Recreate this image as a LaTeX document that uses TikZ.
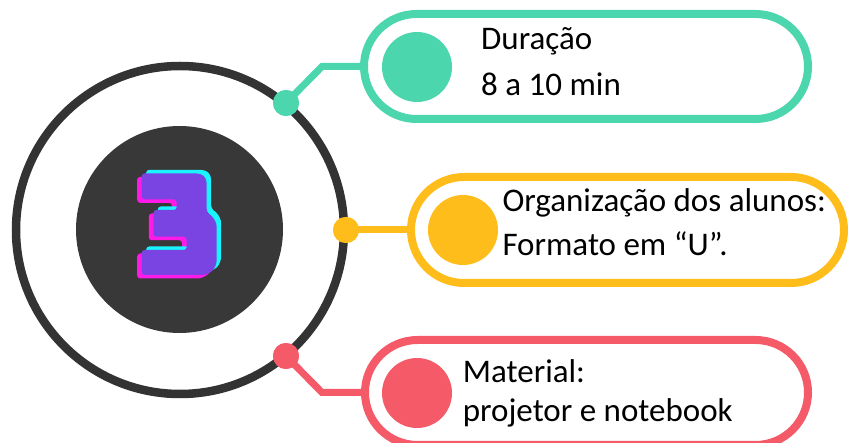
\documentclass[tikz,border=0pt]{standalone}
\usepackage{fontspec}
\setmainfont{Carlito}
\usetikzlibrary{shapes.misc}
\definecolor{cg}{HTML}{4BD6AD}
\definecolor{cy}{HTML}{FFBD1B}
\definecolor{cr}{HTML}{F55A69}
\definecolor{ring}{HTML}{333333}
\definecolor{core}{HTML}{383838}
\definecolor{purplec}{HTML}{7A44E3}
\definecolor{pinkc}{HTML}{FF1AE8}
\definecolor{cyanc}{HTML}{19F4FF}
\tikzset{
  pill/.style={rounded rectangle, line width=8pt, inner sep=0pt, outer sep=0pt, fill=white},
  dot/.style={circle, inner sep=0pt, outer sep=0pt, minimum size=26pt},
  bigdot/.style={circle, inner sep=0pt, outer sep=0pt, minimum size=70pt},
  link/.style={line width=7pt},
  txt/.style={anchor=base west, inner sep=0pt, font=\fontsize{33}{40}\selectfont, text=black},
}
\begin{document}
\begin{tikzpicture}[x=1pt,y=-1pt]
\useasboundingbox (0,0) rectangle (849,443);
\clip (0,0) rectangle (849,443);
% central circles
\node[circle, draw=ring, line width=8.5pt, minimum size=328pt, inner sep=0pt] (ringc) at (180,230) {};
\node[circle, fill=core, minimum size=207pt, inner sep=0pt] (corec) at (179.5,229.5) {};
% the stylised 3
\foreach \dx/\dy/\c in {-4.5/3.5/pinkc, 4.5/-3.5/cyanc, 0/0/purplec} {
  \fill[\c, shift={(\dx,\dy)}, rounded corners=3pt]
    (141.7,173.3) -- (198,173.3) -- (204,175.5) -- (206.7,181) -- (206.7,212)
    -- (213,217) -- (216.7,224) -- (216.7,263) -- (213,271) -- (205,275)
    -- (141.7,275) -- (141.7,250) -- (186.7,250) -- (186.7,236.7)
    -- (153.3,236.7) -- (153.3,210) -- (176.7,210) -- (176.7,199.3)
    -- (141.7,199.3) -- cycle;
}
% pills
\node[pill, draw=cg, minimum width=444pt, minimum height=105pt] (gpill) at (586,66.5) {};
\node[pill, draw=cy, minimum width=433pt, minimum height=106pt] (ypill) at (627.5,230) {};
\node[pill, draw=cr, minimum width=443pt, minimum height=105pt] (rpill) at (586.5,392.5) {};
% connectors
\coordinate (gbend) at (322,66.5);
\coordinate (rbend) at (322,392.5);
\node[dot, fill=cg] (gdot) at (286,103) {};
\node[dot, fill=cy] (ydot) at (346,230) {};
\node[dot, fill=cr] (rdot) at (286,356) {};
\draw[link, cg] (gdot.center) -- (gbend) -- (gpill.west);
\draw[link, cy] (ydot.center) -- (ypill.west);
\draw[link, cr] (rdot.center) -- (rbend) -- (rpill.west);
\node[dot, fill=cg] at (gdot) {};
\node[dot, fill=cy] at (ydot) {};
\node[dot, fill=cr] at (rdot) {};
% inner circles
\node[bigdot, fill=cg] (gin) at (417,67) {};
\node[bigdot, fill=cy] (yin) at (463,230) {};
\node[bigdot, fill=cr] (rin) at (417,393) {};
% texts
\node[txt] (g1) at (481,50) {Duração};
\node[txt] (g2) at (481,96) {8 a 10 min};
\node[txt] (y1) at (502.3,211.7) {Organização dos alunos:};
\node[txt] (y2) at (502.3,256) {Formato em “U”.};
\node[txt] (r1) at (462.7,382.3) {Material:};
\node[txt] (r2) at (462.7,421.5) {projetor e notebook};
\end{tikzpicture}
\end{document}
